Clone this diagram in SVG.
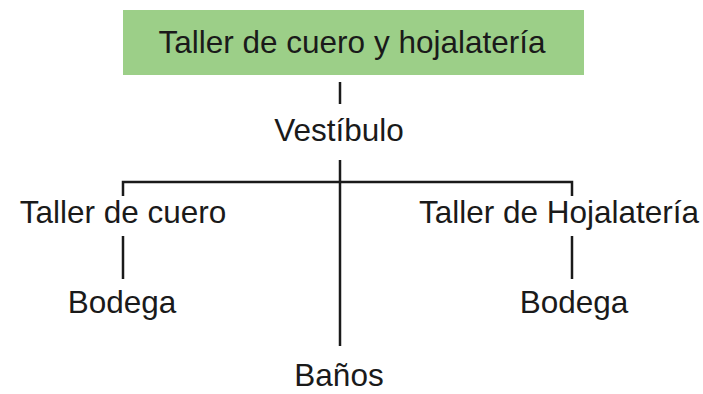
<svg xmlns="http://www.w3.org/2000/svg" width="703" height="394" viewBox="0 0 703 394">
<style>
text{font-family:"Liberation Sans",Arial,sans-serif;font-size:31.5px;fill:#1a1a1a;text-anchor:middle}
.c{stroke:#1a1a1a;stroke-width:2.5;fill:none}
</style>
<rect width="703" height="394" fill="#fff"/>
<g id="connectors">
<line class="c" x1="340" y1="82" x2="340" y2="104"/>
<line class="c" x1="340" y1="160" x2="340" y2="346"/>
<polyline class="c" points="123,196 123,182 572,182 572,196"/>
<line class="c" x1="123" y1="236" x2="123" y2="279"/>
<line class="c" x1="572" y1="236" x2="572" y2="279"/>
</g>
<g id="n-root">
<rect x="123" y="10" width="461" height="65" fill="#9ccf88"/>
<text x="352" y="53">Taller de cuero y hojalatería</text>
</g>
<g id="n-vestibulo"><text x="339" y="141">Vestíbulo</text></g>
<g id="n-taller-cuero"><text x="123" y="223">Taller de cuero</text></g>
<g id="n-taller-hoja"><text x="559" y="223">Taller de Hojalatería</text></g>
<g id="n-bodega1"><text x="122" y="313">Bodega</text></g>
<g id="n-bodega2"><text x="574" y="313">Bodega</text></g>
<g id="n-banos"><text x="339" y="386">Baños</text></g>
</svg>
